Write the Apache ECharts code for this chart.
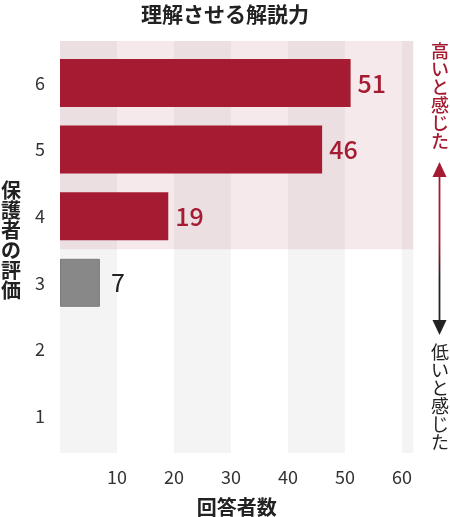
<!DOCTYPE html>
<html>
<head>
<meta charset="utf-8">
<script src="https://cdn.jsdelivr.net/npm/echarts@6/dist/echarts.min.js"></script>
<style>html,body{margin:0;padding:0;background:#fff}#c{width:450px;height:517px}</style>
</head>
<body>
<div id="c"></div>
<script>
const title = '理解させる解説力';
const categories = ['1', '2', '3', '4', '5', '6'];
const counts = [0, 0, 7, 19, 46, 51];
const highCategories = ['4', '5', '6'];
const xTicks = [10, 20, 30, 40, 50, 60];
const xName = '回答者数';
const yName = '保護者の評価';
const highText = '高いと感じた';
const lowText = '低いと感じた';

const RED = '#a51b31';
const GRAY = '#888888';
const DARK = '#222222';
const FONT = '"Noto Sans CJK JP", "Noto Sans", sans-serif';
const xMax = 62;
const vert = s => s.split('').join('\n');

const chart = echarts.init(document.getElementById('c'), null, {renderer: 'canvas'});

const yBgMin = 0.44, yBgMax = 6.63;
const highLow = categories.indexOf(highCategories[0]) + 1 - 0.5;

chart.setOption({
  animation: false,
  textStyle: {fontFamily: FONT},
  title: {
    text: title, left: 'center', top: -1,
    textStyle: {fontFamily: FONT, fontSize: 21, fontWeight: 'bold', color: '#222'}
  },
  grid: [
    {left: 60, right: 36.7, top: 41, bottom: 64, outerBoundsMode: 'none', containLabel: false},
    {left: 60, right: 36.7, top: 49.7, bottom: 67.7, outerBoundsMode: 'none', containLabel: false}
  ],
  xAxis: [
    {
      gridIndex: 0, type: 'value', min: 0, max: xMax, interval: 10,
      axisLine: {show: false}, axisTick: {show: false}, splitLine: {show: false},
      splitArea: {show: true, areaStyle: {color: ['#f4f4f4', '#ffffff']}},
      axisLabel: {
        fontSize: 18, color: '#333', margin: 15, fontFamily: FONT,
        formatter: v => xTicks.indexOf(v) >= 0 ? String(v) : ''
      },
      name: xName, nameLocation: 'middle', nameGap: 44,
      nameTextStyle: {fontSize: 20, fontWeight: 'bold', color: '#222', fontFamily: FONT}
    },
    {
      gridIndex: 1, type: 'value', min: 0, max: xMax,
      axisLine: {show: false}, axisTick: {show: false}, splitLine: {show: false},
      axisLabel: {show: false}
    }
  ],
  yAxis: [
    {
      gridIndex: 0, type: 'value', min: yBgMin, max: yBgMax,
      show: false, splitLine: {show: false}
    },
    {
      gridIndex: 1, type: 'category', data: categories,
      axisLine: {show: false}, axisTick: {show: false},
      axisLabel: {fontSize: 18, color: '#333', margin: 15, fontFamily: FONT}
    }
  ],
  series: [
    {
      type: 'line', xAxisIndex: 0, yAxisIndex: 0, data: [], silent: true,
      markArea: {
        silent: true,
        itemStyle: {color: 'rgba(160,35,55,0.1)'},
        data: [[{yAxis: highLow}, {yAxis: yBgMax}]]
      }
    },
    {
      type: 'bar', xAxisIndex: 1, yAxisIndex: 1, barWidth: 48,
      data: counts.map((v, i) => {
        const high = highCategories.indexOf(categories[i]) >= 0;
        return {
          value: v,
          itemStyle: high ? {color: RED}
            : {color: GRAY, borderColor: '#7a7a7a', borderWidth: v > 0 ? 1 : 0},
          label: high
            ? {color: RED, fontWeight: 500, distance: 7}
            : {color: DARK, fontWeight: 'normal', distance: 11}
        };
      }),
      label: {
        show: true, position: 'right', fontSize: 25, fontFamily: FONT,
        formatter: p => p.value ? String(p.value) : ''
      }
    }
  ],
  graphic: [
    {
      type: 'text', left: 1, top: 180,
      style: {text: vert(yName), lineHeight: 20, fill: '#222', font: 'bold 20px ' + FONT}
    },
    {
      type: 'text', x: 440, y: 42,
      style: {text: vert(highText), lineHeight: 18, fill: RED,
        align: 'center', verticalAlign: 'top', font: '500 18px ' + FONT}
    },
    {
      type: 'text', x: 440, y: 343,
      style: {text: vert(lowText), lineHeight: 18, fill: DARK,
        align: 'center', verticalAlign: 'top', font: '400 18px ' + FONT}
    },
    {
      type: 'line', shape: {x1: 439.5, y1: 172, x2: 439.5, y2: 324},
      style: {
        lineWidth: 1.8,
        stroke: new echarts.graphic.LinearGradient(0, 0, 0, 1, [
          {offset: 0, color: RED}, {offset: 0.45, color: RED},
          {offset: 0.7, color: '#222'}, {offset: 1, color: '#222'}
        ])
      }
    },
    {
      type: 'polygon', shape: {points: [[439.5, 162], [432.5, 177], [446.5, 177]]},
      style: {fill: RED}
    },
    {
      type: 'polygon', shape: {points: [[432.5, 320], [446.5, 320], [439.5, 335]]},
      style: {fill: '#222'}
    }
  ]
});
</script>
</body>
</html>
